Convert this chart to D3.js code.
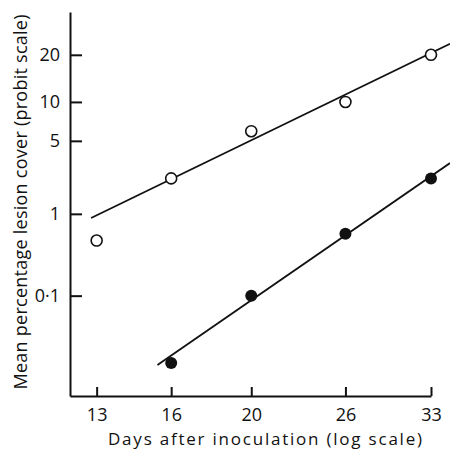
<!DOCTYPE html>
<html>
<head>
<meta charset="utf-8">
<script src="https://cdn.jsdelivr.net/npm/d3@7"></script>
<style>
  body { margin: 0; background: #fff; }
  text { font-family: "Open Sans", "DejaVu Sans", sans-serif; fill: #111; }
</style>
</head>
<body>
<div id="chart"></div>
<script>
// data
const days = [13, 16, 20, 26, 33];
const openPct = [0.5, 2.3, 6, 10, 20];
const filledDays = [16, 20, 26, 33];
const filledPct = [0.01, 0.1, 0.6, 2.3];
// fitted lines (end points in data units)
const openLineDays = [12.8, 34.8];
const openLinePct = [0.9, 23];
const filledLineDays = [15.4, 34.8];
const filledLinePct = [0.0093, 3.2];
// tick labels
const xTicks = [13, 16, 20, 26, 33];
const yTicks = [20, 10, 5, 1, 0.1];
const yTickLabels = ["20", "10", "5", "1", "0·1"];

// inverse normal cdf (Acklam) for the probit scale
const probit = (p) => {
  const a = [-39.69683028665376, 220.9460984245205, -275.9285104469687, 138.357751867269, -30.66479806614716, 2.506628277459239];
  const b = [-54.47609879822406, 161.5858368580409, -155.6989798598866, 66.80131188771972, -13.28068155288853];
  const c = [-0.007784894002430293, -0.3223964580411365, -2.400758277161838, -2.549732175403001, 4.374664141464968, 2.938163982698783];
  const d = [0.007784695709041462, 0.3224671290700398, 2.445134137142996, 3.754408661907416];
  const plow = 0.02425;
  let q, r;
  if (p < plow) {
    q = Math.sqrt(-2 * Math.log(p));
    return (((((c[0] * q + c[1]) * q + c[2]) * q + c[3]) * q + c[4]) * q + c[5]) /
      ((((d[0] * q + d[1]) * q + d[2]) * q + d[3]) * q + 1);
  } else if (p <= 1 - plow) {
    q = p - 0.5;
    r = q * q;
    return (((((a[0] * r + a[1]) * r + a[2]) * r + a[3]) * r + a[4]) * r + a[5]) * q /
      (((((b[0] * r + b[1]) * r + b[2]) * r + b[3]) * r + b[4]) * r + 1);
  }
  q = Math.sqrt(-2 * Math.log(1 - p));
  return -(((((c[0] * q + c[1]) * q + c[2]) * q + c[3]) * q + c[4]) * q + c[5]) /
    ((((d[0] * q + d[1]) * q + d[2]) * q + d[3]) * q + 1);
};
const z = (pct) => probit(pct / 100);

const W = 450, H = 450;
const margin = { top: 12, right: 19, bottom: 54, left: 70 };

const svg = d3
  .select("#chart")
  .append("svg")
  .attr("width", W)
  .attr("height", H);

// x: log days, y: probit of percentage
const x = d3.scaleLog().domain([12.07, 33]).range([margin.left, W - margin.right]);
const y = d3.scaleLinear().domain([-0.442, -4.027]).range([margin.top, H - margin.bottom]);

// axes
const xAxis = svg
  .append("g")
  .attr("transform", `translate(0,${H - margin.bottom})`)
  .call(d3.axisBottom(x).tickValues(xTicks).tickFormat(d3.format("d")).tickSizeInner(-9).tickSizeOuter(0).tickPadding(12));
const yAxis = svg
  .append("g")
  .attr("transform", `translate(${margin.left},0)`)
  .call(d3.axisLeft(y).tickValues(yTicks.map(z)).tickFormat((d, i) => yTickLabels[i]).tickSizeInner(-12).tickSizeOuter(0).tickPadding(10));

[xAxis, yAxis].forEach((g) => {
  g.selectAll("path, line").attr("stroke", "#111").attr("stroke-width", 2);
  g.selectAll("text").style("font-size", "18px").attr("fill", "#111");
});

// axis titles (stretched to the printed width)
svg
  .append("text")
  .attr("x", 265)
  .attr("y", 444.5)
  .attr("textLength", 314)
  .attr("lengthAdjust", "spacing")
  .style("text-anchor", "middle")
  .style("font-size", "17px")
  .text("Days after inoculation (log scale)");
svg
  .append("text")
  .attr("transform", "rotate(-90)")
  .attr("x", -202)
  .attr("y", 27)
  .attr("textLength", 375)
  .attr("lengthAdjust", "spacing")
  .style("text-anchor", "middle")
  .style("font-size", "18px")
  .text("Mean percentage lesion cover (probit scale)");

// fitted lines
const line = d3.line().x((d) => x(d[0])).y((d) => y(z(d[1])));
svg
  .append("path")
  .datum(d3.zip(openLineDays, openLinePct))
  .attr("d", line)
  .attr("fill", "none")
  .attr("stroke", "#111")
  .attr("stroke-width", 1.8);
svg
  .append("path")
  .datum(d3.zip(filledLineDays, filledLinePct))
  .attr("d", line)
  .attr("fill", "none")
  .attr("stroke", "#111")
  .attr("stroke-width", 1.8);

// points
svg
  .selectAll(".open")
  .data(d3.zip(days, openPct))
  .join("circle")
  .attr("class", "open")
  .attr("cx", (d) => x(d[0]))
  .attr("cy", (d) => y(z(d[1])))
  .attr("r", 5.5)
  .attr("fill", "#fff")
  .attr("stroke", "#111")
  .attr("stroke-width", 1.6);
svg
  .selectAll(".filled")
  .data(d3.zip(filledDays, filledPct))
  .join("circle")
  .attr("class", "filled")
  .attr("cx", (d) => x(d[0]))
  .attr("cy", (d) => y(z(d[1])))
  .attr("r", 6)
  .attr("fill", "#111");
</script>
</body>
</html>
